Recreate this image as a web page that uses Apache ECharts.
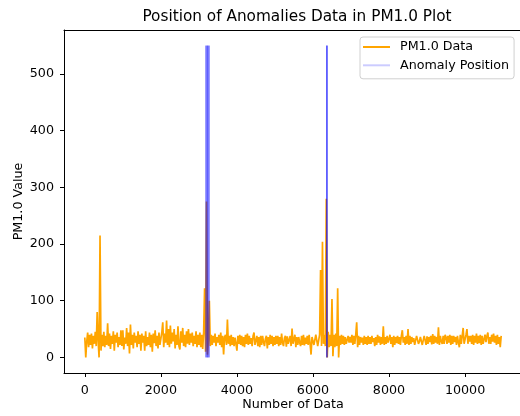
<!DOCTYPE html>
<html>
<head>
<meta charset="utf-8">
<script src="https://cdn.jsdelivr.net/npm/echarts@6/dist/echarts.min.js"></script>
<style>
html,body{margin:0;padding:0;background:#fff;}
#chart{width:520px;height:416px;}
</style>
</head>
<body>
<div id="chart"></div>
<script>
// PM1.0 readings, sampled every 25 data points (index 0, 25, 50, ... 10950)
var sampleStep = 25;
var pm10Values = [
  35, 0, 28, 44, 18, 40, 22, 42, 16, 38, 24, 45, 20, 80, 30, 0, 215, 12, 40, 20,
  45, 18, 38, 22, 60, 20, 42, 15, 38, 24, 46, 12, 40, 26, 44, 18, 36, 22, 48, 20,
  48, 14, 35, 24, 52, 20, 44, 7, 58, 22, 40, 16, 44, 26, 38, 18, 46, 24, 40, 12,
  42, 26, 38, 12, 46, 20, 36, 22, 44, 18, 40, 10, 42, 25, 48, 20, 38, 16, 44, 22,
  20, 44, 62, 18, 42, 26, 65, 22, 50, 18, 56, 24, 44, 28, 50, 16, 40, 22, 55, 20,
  14, 46, 26, 52, 20, 40, 18, 46, 24, 50, 22, 42, 26, 44, 20, 38, 24, 46, 18, 40,
  22, 44, 18, 40, 15, 44, 122, 10, 275, 5, 30, 100, 20, 40, 22, 38, 26, 42, 20, 36,
  26, 40, 22, 44, 18, 38, 5, 36, 40, 22, 67, 24, 38, 20, 40, 22, 36, 20, 35, 24,
  12, 38, 24, 40, 22, 38, 20, 36, 18, 40, 24, 42, 22, 38, 24, 34, 20, 38, 44, 22,
  25, 38, 20, 36, 18, 38, 22, 38, 27, 20, 33, 38, 16, 36, 22, 40, 24, 38, 20, 36,
  22, 38, 24, 38, 20, 36, 22, 42, 26, 20, 34, 38, 19, 37, 24, 22, 38, 20, 51, 24,
  23, 40, 18, 36, 22, 36, 26, 20, 38, 22, 40, 21, 35, 24, 38, 22, 40, 24, 5, 36,
  36, 22, 24, 40, 38, 20, 22, 40, 154, 20, 204, 24, 40, 20, 280, 0, 45, 18, 40, 20,
  103, 2, 40, 18, 42, 20, 122, 0, 38, 22, 40, 24, 38, 22, 36, 24, 22, 38, 26, 36,
  26, 40, 22, 38, 24, 40, 62, 18, 38, 22, 36, 26, 35, 22, 38, 24, 36, 22, 38, 24,
  36, 24, 38, 27, 34, 20, 36, 22, 40, 26, 37, 22, 36, 24, 55, 22, 36, 24, 38, 26,
  28, 40, 24, 36, 18, 38, 22, 36, 25, 38, 24, 36, 22, 38, 48, 26, 36, 22, 38, 24,
  50, 22, 38, 24, 36, 27, 34, 22, 20, 38, 40, 24, 28, 36, 35, 22, 24, 38, 36, 22,
  37, 24, 36, 27, 38, 23, 41, 24, 38, 26, 36, 24, 53, 22, 38, 28, 24, 38, 24, 40,
  36, 24, 38, 26, 40, 22, 38, 24, 38, 27, 36, 22, 38, 26, 18, 40, 24, 38, 52, 24,
  25, 40, 50, 24, 38, 28, 38, 24, 40, 22, 38, 26, 42, 24, 38, 25, 40, 22, 38, 24,
  22, 40, 27, 38, 44, 24, 36, 24, 40, 28, 42, 26, 38, 22, 40, 24, 36, 18, 38
];
// positions (data index) flagged as anomalies
var anomalyPositions = [
  3170, 3178, 3185, 3193, 3200, 3208, 3215, 3223, 3230, 3238, 3245, 3253, 3260, 3268,
  6340, 6347, 6354, 6361, 6368, 6375, 6382
];
var anomalyHeight = [0, 550];
var xTicks = [0, 2000, 4000, 6000, 8000, 10000];
var yTicks = [0, 100, 200, 300, 400, 500];

var pmData = pm10Values.map(function (v, i) { return [i * sampleStep, v]; });

var font = 'DejaVu Sans';
var plain = function (v) { return String(v); };
var chart = echarts.init(document.getElementById('chart'), null, {renderer: 'canvas'});
chart.setOption({
  animation: false,
  backgroundColor: '#fff',
  textStyle: {fontFamily: font},
  title: {
    text: 'Position of Anomalies Data in PM1.0 Plot',
    left: 292, top: 5, textAlign: 'center',
    textStyle: {fontFamily: font, fontSize: 15.3, fontWeight: 'normal', color: '#000'}
  },
  legend: {
    orient: 'vertical', left: 360, top: 37,
    padding: [3, 5, 6.5, 3], itemGap: 4.3, itemWidth: 27, itemHeight: 2,
    icon: 'rect',
    borderColor: '#d0d0d0', borderWidth: 1, borderRadius: 3, backgroundColor: '#fff',
    textStyle: {fontFamily: font, fontSize: 12.7, color: '#000', lineHeight: 14, padding: [0, 0, 0, 5]},
    data: ['PM1.0 Data', 'Anomaly Position']
  },
  grid: {left: 64, right: -2, top: 30, bottom: 43, show: false, containLabel: false, outerBoundsMode: 'none'},
  xAxis: [{
    type: 'value', min: -547.5, max: 11497.5,
    name: 'Number of Data', nameLocation: 'middle', nameGap: 25, nameMoveOverlap: false,
    nameTextStyle: {fontFamily: font, fontSize: 12.7, color: '#000'},
    axisLine: {show: true, onZero: false, lineStyle: {color: '#000', width: 1}},
    axisTick: {show: true, length: 4, lineStyle: {color: '#000'}, customValues: xTicks},
    axisLabel: {fontFamily: font, fontSize: 12.7, color: '#000', margin: 11, customValues: xTicks, formatter: plain},
    splitLine: {show: false}
  }, {
    type: 'value', position: 'top', min: -547.5, max: 11497.5,
    axisLine: {show: true, onZero: false, lineStyle: {color: '#000', width: 1}},
    axisTick: {show: false}, axisLabel: {show: false}, splitLine: {show: false}
  }],
  yAxis: {
    type: 'value', min: -27.5, max: 577.5,
    name: 'PM1.0 Value', nameLocation: 'middle', nameGap: 39, nameRotate: 90, nameMoveOverlap: false,
    nameTextStyle: {fontFamily: font, fontSize: 12.7, color: '#000'},
    axisLine: {show: true, onZero: false, lineStyle: {color: '#000', width: 1}},
    axisTick: {show: true, length: 4, lineStyle: {color: '#000'}, customValues: yTicks},
    axisLabel: {fontFamily: font, fontSize: 12.7, color: '#000', margin: 10, customValues: yTicks, formatter: plain},
    splitLine: {show: false}
  },
  series: [
    {
      name: 'PM1.0 Data', type: 'line', data: pmData,
      showSymbol: false, symbol: 'none', sampling: null,
      color: '#FFA500', lineStyle: {color: '#FFA500', width: 1.7}, z: 2
    },
    {
      name: 'Anomaly Position', type: 'line', data: [],
      showSymbol: false, symbol: 'none',
      color: 'rgba(0,0,255,0.2)', lineStyle: {color: 'rgba(0,0,255,0.2)', width: 1.5}, z: 3,
      markLine: {
        silent: true, symbol: ['none', 'none'], animation: false,
        label: {show: false},
        lineStyle: {color: 'rgba(0,0,255,0.22)', width: 1, type: 'solid'},
        emphasis: {disabled: true},
        data: anomalyPositions.map(function (x) {
          return [{coord: [x, anomalyHeight[0]]}, {coord: [x, anomalyHeight[1]]}];
        })
      }
    }
  ]
});
</script>
</body>
</html>
